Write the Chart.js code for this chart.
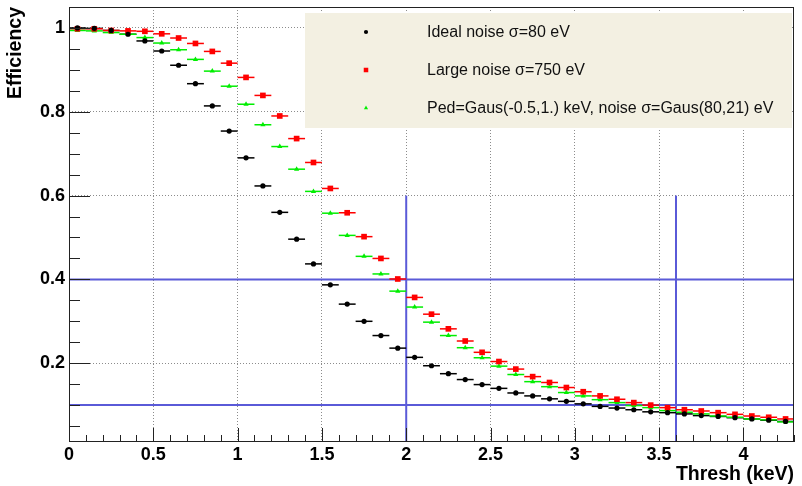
<!DOCTYPE html>
<html lang="en">

<head>
    <meta charset="UTF-8">
    <title>Efficiency vs Thresh</title>
    <script src="https://cdn.jsdelivr.net/npm/chart.js"></script>
    <style>
        body {
            margin: 0;
            background-color: #ffffff;
        }

        #wrap {
            width: 802px;
            height: 486px;
        }
    </style>
</head>

<body>
    <div id="wrap">
        <canvas id="effChart" width="802" height="486"></canvas>
    </div>

    <script>
        // bin centres (keV), bin width 0.1
        const binCenters = [0.05, 0.15, 0.25, 0.35, 0.45, 0.55, 0.65, 0.75, 0.85, 0.95,
            1.05, 1.15, 1.25, 1.35, 1.45, 1.55, 1.65, 1.75, 1.85, 1.95,
            2.05, 2.15, 2.25, 2.35, 2.45, 2.55, 2.65, 2.75, 2.85, 2.95,
            3.05, 3.15, 3.25, 3.35, 3.45, 3.55, 3.65, 3.75, 3.85, 3.95,
            4.05, 4.15, 4.25];
        const binHalfWidth = 0.05;

        const idealEff = [1.0, 0.999, 0.994, 0.985, 0.969, 0.945, 0.911, 0.867, 0.814, 0.754,
            0.690, 0.623, 0.560, 0.496, 0.437, 0.387, 0.341, 0.300, 0.266, 0.236,
            0.214, 0.194, 0.175, 0.161, 0.149, 0.140, 0.129, 0.122, 0.115, 0.109,
            0.103, 0.097, 0.093, 0.089, 0.084, 0.082, 0.079, 0.075, 0.073, 0.070,
            0.067, 0.064, 0.061];
        const largeEff = [0.998, 0.998, 0.994, 0.993, 0.992, 0.986, 0.976, 0.963, 0.944, 0.916,
            0.882, 0.839, 0.790, 0.736, 0.679, 0.617, 0.559, 0.502, 0.450, 0.401,
            0.357, 0.317, 0.282, 0.253, 0.226, 0.204, 0.186, 0.168, 0.154, 0.142,
            0.132, 0.122, 0.114, 0.106, 0.100, 0.094, 0.089, 0.086, 0.082, 0.078,
            0.074, 0.071, 0.067];
        const pedEff = [0.994, 0.993, 0.989, 0.985, 0.977, 0.964, 0.948, 0.925, 0.897, 0.861,
            0.818, 0.769, 0.717, 0.663, 0.610, 0.558, 0.505, 0.455, 0.413, 0.372,
            0.334, 0.298, 0.266, 0.237, 0.213, 0.193, 0.173, 0.156, 0.144, 0.130,
            0.122, 0.113, 0.106, 0.099, 0.094, 0.087, 0.083, 0.079, 0.074, 0.071,
            0.067, 0.065, 0.060];

        const seriesLabels = ['Ideal noise \u03c3=80 eV', 'Large noise \u03c3=750 eV',
            'Ped=Gaus(-0.5,1.) keV, noise \u03c3=Gaus(80,21) eV'];

        const xTicks = [0, 0.5, 1, 1.5, 2, 2.5, 3, 3.5, 4];
        const xTickLabels = ['0', '0.5', '1', '1.5', '2', '2.5', '3', '3.5', '4'];
        const yTicks = [0.2, 0.4, 0.6, 0.8, 1];
        const yTickLabels = ['0.2', '0.4', '0.6', '0.8', '1'];

        // blue cut lines
        const cutY = [0.4, 0.1];
        const cutX = [2.0, 3.6];
        const cutXTop = 0.6;

        const xMin = 0, xMax = 4.3;
        const yMin = 0.012, yMax = 1.05;

        const FONT = "'Liberation Sans', Arial, sans-serif";
        Chart.defaults.color = '#000';

        function toPoints(vals) {
            return binCenters.map((x, i) => ({ x: x, y: vals[i] }));
        }

        function line(ctx, x1, y1, x2, y2) {
            ctx.beginPath();
            ctx.moveTo(x1, y1);
            ctx.lineTo(x2, y2);
            ctx.stroke();
        }

        const extras = {
            id: 'extras',
            beforeDatasetsDraw(chart) {
                const { ctx, chartArea: ca, scales: { x, y } } = chart;
                ctx.save();

                // cut lines
                ctx.strokeStyle = '#5a5ad8';
                ctx.lineWidth = 2;
                cutY.forEach(v => {
                    const py = y.getPixelForValue(v);
                    line(ctx, ca.left, py, ca.right, py);
                });
                cutX.forEach(v => {
                    const px = x.getPixelForValue(v);
                    line(ctx, px, y.getPixelForValue(cutXTop), px, ca.bottom);
                });

                // legend background
                ctx.fillStyle = '#f3f0e2';
                ctx.fillRect(305, 13, 487, 115);

                // horizontal error bars (bin width)
                ctx.lineWidth = 1.5;
                chart.data.datasets.forEach(ds => {
                    ctx.strokeStyle = ds.borderColor;
                    ds.data.forEach(p => {
                        const py = y.getPixelForValue(p.y);
                        line(ctx, x.getPixelForValue(p.x - binHalfWidth), py,
                            x.getPixelForValue(p.x + binHalfWidth), py);
                    });
                });
                ctx.restore();
            },
            afterDraw(chart) {
                const { ctx, chartArea: ca, scales: { x, y } } = chart;
                ctx.save();

                // frame
                ctx.strokeStyle = '#222';
                ctx.lineWidth = 1;
                ctx.strokeRect(ca.left + 0.5, ca.top + 0.5, ca.right - ca.left - 1, ca.bottom - ca.top - 1);

                // x ticks (inside)
                for (let i = 0; i <= 43; i++) {
                    const v = i / 10;
                    const px = Math.round(x.getPixelForValue(v)) + 0.5;
                    const len = (i % 5 === 0) ? 14 : 7;
                    line(ctx, px, ca.bottom, px, ca.bottom - len);
                }
                // y ticks (inside)
                for (let i = 1; i <= 21; i++) {
                    const v = i / 20;
                    if (v < yMin) continue;
                    const py = Math.round(y.getPixelForValue(v)) + 0.5;
                    const len = (i % 4 === 0) ? 21 : 11;
                    line(ctx, ca.left, py, ca.left + len, py);
                }

                // legend entries
                const rowY = [32, 70, 108];
                ctx.font = '16px ' + FONT;
                ctx.textBaseline = 'middle';
                ctx.textAlign = 'left';
                chart.data.datasets.forEach((ds, i) => {
                    ctx.fillStyle = ds.backgroundColor;
                    ctx.strokeStyle = ds.borderColor;
                    Chart.helpers.drawPoint(ctx, {
                        pointStyle: ds.pointStyle,
                        radius: ds.pointRadius * 0.8,
                        borderWidth: 0,
                        rotation: 0
                    }, 366, rowY[i]);
                    ctx.fillStyle = '#111';
                    ctx.fillText(ds.label, 427, rowY[i] + 1);
                });
                ctx.restore();
            }
        };

        const ctx = document.getElementById('effChart').getContext('2d');
        const effChart = new Chart(ctx, {
            type: 'scatter',
            data: {
                datasets: [{
                    label: seriesLabels[0],
                    data: toPoints(idealEff),
                    borderColor: '#000000',
                    backgroundColor: '#000000',
                    pointStyle: 'circle',
                    pointRadius: 2.6,
                    borderWidth: 0
                }, {
                    label: seriesLabels[1],
                    data: toPoints(largeEff),
                    borderColor: '#ff0000',
                    backgroundColor: '#ff0000',
                    pointStyle: 'rect',
                    pointRadius: 4,
                    borderWidth: 0
                }, {
                    label: seriesLabels[2],
                    data: toPoints(pedEff),
                    borderColor: '#00ee00',
                    backgroundColor: '#00ee00',
                    pointStyle: 'triangle',
                    pointRadius: 3,
                    borderWidth: 0
                }]
            },
            options: {
                responsive: false,
                animation: false,
                layout: {
                    padding: { top: 7, right: 8, left: 0, bottom: 0 }
                },
                plugins: {
                    legend: { display: false },
                    tooltip: { enabled: false }
                },
                elements: {
                    point: { hoverRadius: 0 }
                },
                scales: {
                    x: {
                        type: 'linear',
                        min: xMin,
                        max: xMax,
                        afterFit: s => {
                            s.height = 44;
                            s.paddingLeft = 0;
                            s.paddingRight = 0;
                        },
                        afterBuildTicks: s => { s.ticks = xTicks.map(v => ({ value: v })); },
                        ticks: {
                            padding: 2,
                            font: { family: FONT, size: 18, weight: 'bold' },
                            callback: v => xTickLabels[xTicks.indexOf(v)]
                        },
                        grid: { color: '#8c8c8c', drawTicks: false },
                        border: { display: false, dash: [1, 2] },
                        title: {
                            display: true,
                            text: 'Thresh (keV)',
                            align: 'end',
                            padding: 0,
                            font: { family: FONT, size: 19.5, weight: 'bold' }
                        }
                    },
                    y: {
                        type: 'linear',
                        min: yMin,
                        max: yMax,
                        afterFit: s => {
                            s.width = 69;
                            s.paddingTop = 0;
                            s.paddingBottom = 0;
                        },
                        afterBuildTicks: s => { s.ticks = yTicks.map(v => ({ value: v })); },
                        ticks: {
                            padding: 4,
                            font: { family: FONT, size: 18, weight: 'bold' },
                            callback: v => yTickLabels[yTicks.indexOf(v)]
                        },
                        grid: { color: '#8c8c8c', drawTicks: false },
                        border: { display: false, dash: [1, 2] },
                        title: {
                            display: true,
                            text: 'Efficiency',
                            align: 'end',
                            padding: { top: 4, bottom: 0 },
                            font: { family: FONT, size: 19.5, weight: 'bold' }
                        }
                    }
                }
            },
            plugins: [extras]
        });
    </script>
</body>

</html>
